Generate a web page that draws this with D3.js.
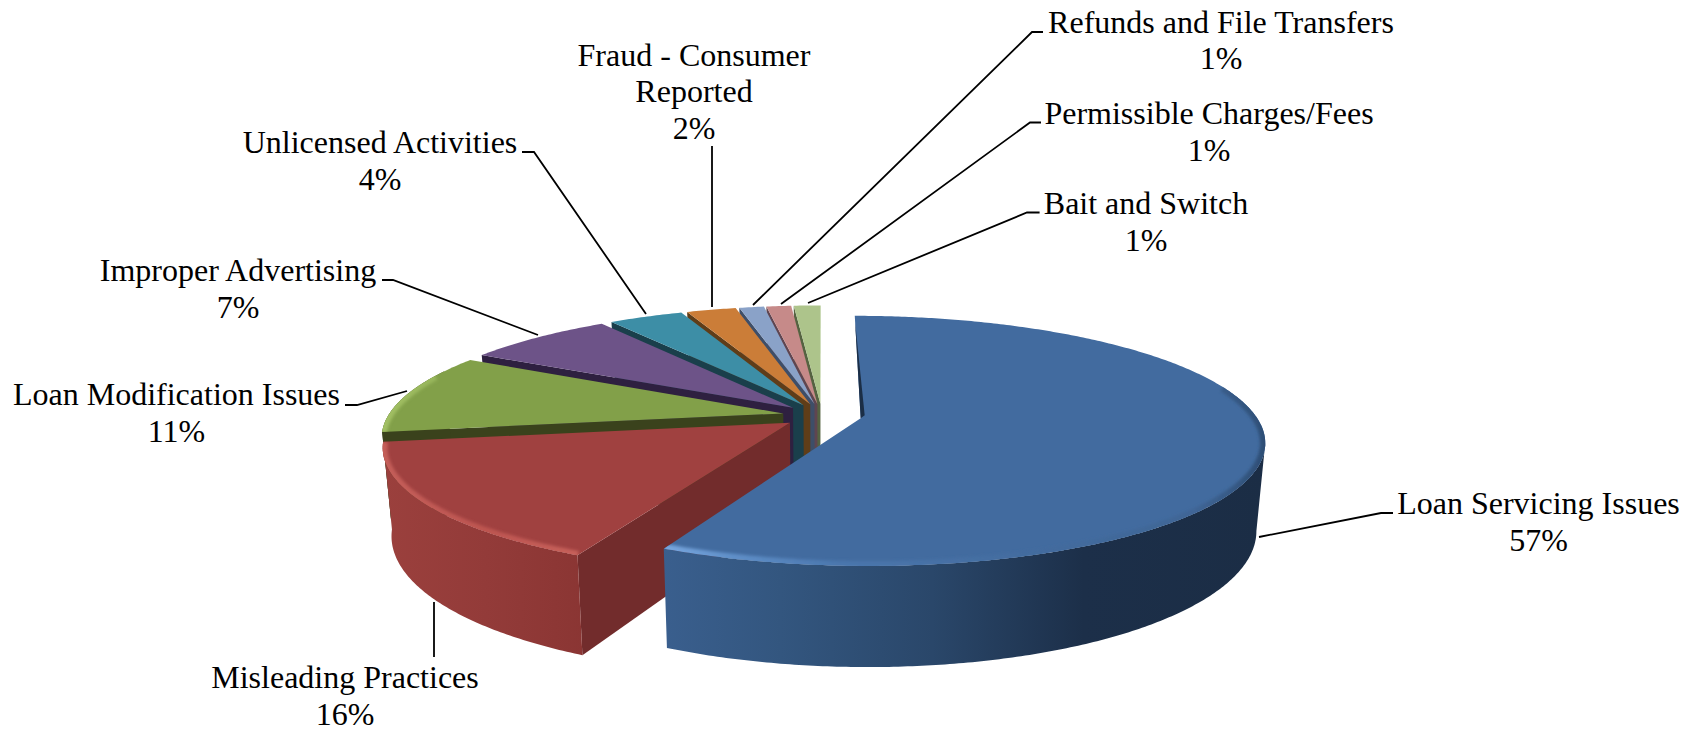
<!DOCTYPE html>
<html>
<head>
<meta charset="utf-8">
<script src="https://cdn.jsdelivr.net/npm/d3@7/dist/d3.min.js"></script>
<style>html,body{margin:0;padding:0;background:#fff}svg{display:block}</style>
</head>
<body>
<script>
const categories = ["Loan Servicing Issues","Misleading Practices","Loan Modification Issues","Improper Advertising","Unlicensed Activities","Fraud - Consumer Reported","Refunds and File Transfers","Permissible Charges/Fees","Bait and Switch"];
const values = [57.1,15.5,10.5,7.2,3.6,2.4,1.2,1.2,1.3];
const topColors = ["#426b9f","#a04140","#82a049","#6d5388","#3d8ea6","#cb7d38","#8aa2c8","#c68a89","#adc48b"];
const endWallColors = ["#1b2e46","#722c2c","#3a421c","#2e2040","#1a3f4b","#5f3d18","#3e4e68","#5f4550","#556341"];
const labelLines = [["Loan Servicing Issues"],["Misleading Practices"],["Loan Modification Issues"],["Improper Advertising"],["Unlicensed Activities"],["Fraud - Consumer","Reported"],["Refunds and File Transfers"],["Permissible Charges/Fees"],["Bait and Switch"]];

// annotation layout: label centre, first baseline, leader polyline
const labelX = [1538.5,345,176.5,238,380,694,1221,1209,1146];
const labelY = [514,688,405,281,153,65.5,32.5,124,214];
const leaders = [
  [[1393,513],[1381,513],[1259,537]],
  [[434,657],[434,602]],
  [[345,405],[357,405],[407,391]],
  [[382,280],[393,280],[538,335]],
  [[522,152],[534,152],[646,314]],
  [[712,146],[712,307]],
  [[1043,32],[1032,32],[753,305]],
  [[1041,122.5],[1030,122.5],[781,304]],
  [[1039.6,212.5],[1027,212.5],[808,303]]
];

const W = 1700, H = 732;
const cx = 822, cy = 415.6, R = 395, ellH = 120, persp = 0.18, depth = 85, shrink = 0.98, explode = 0.1;

const svg = d3.select("body").append("svg").attr("width",W).attr("height",H).attr("viewBox",`0 0 ${W} ${H}`);
svg.append("rect").attr("width",W).attr("height",H).attr("fill","#fff");
const defs = svg.append("defs");
defs.append("filter").attr("id","soft").attr("x","-10%").attr("y","-10%").attr("width","120%").attr("height","120%")
  .append("feGaussianBlur").attr("stdDeviation",1.8);

function addGrad(id,x1,x2,stops){
  const g = defs.append("linearGradient").attr("id",id).attr("gradientUnits","userSpaceOnUse")
    .attr("x1",x1).attr("x2",x2).attr("y1",0).attr("y2",0);
  stops.forEach(s=>g.append("stop").attr("offset",s[0]).attr("stop-color",s[1]));
}
addGrad("wall0",660,1265,[[0,"#3a5f8e"],[0.2,"#33567f"],[0.45,"#2a476a"],[0.7,"#1c2f49"],[1,"#1b2d45"]]);
addGrad("wall1",382,590,[[0,"#9b403d"],[0.5,"#933b39"],[1,"#8a3533"]]);
addGrad("rim0",660,1268,[[0,"#7aa8e0"],[0.12,"#5f8fc8"],[0.3,"#4a76ad"],[0.6,"#436c9f"],[0.88,"#3f6595"],[1,"#2d4d74"]]);
addGrad("rim1",382,590,[[0,"#c45e59"],[0.5,"#bd5550"],[1,"#c8625c"]]);
addGrad("rim2",380,480,[[0,"#a2c064"],[1,"#8fae55"]]);

const pie = d3.pie().sort(null).value(d=>d).startAngle(0).endAngle(2*Math.PI);
const arcs = pie(values);

function ground(a,r,offX,offZ){ return [r*Math.sin(a)+offX, r*Math.cos(a)+offZ]; }
function topPt(X,Z){ const s=1/(1+persp*Z); return [cx+R*X*s, cy-ellH*Z*s]; }
function botPt(X,Z){ const s=1/(1+persp*Z); return [cx+R*X*s*shrink, cy-ellH*Z*s*shrink+depth*s]; }
const line = d3.line();
const sample = (a0,a1,step=0.01)=>{ const n=Math.max(2,Math.ceil(Math.abs(a1-a0)/step)); return d3.range(n+1).map(i=>a0+(a1-a0)*i/n); };

const order = d3.range(values.length-1,-1,-1); // back to front, blue last
const gPie = svg.append("g");

order.forEach(i=>{
  const d = arcs[i], mid=(d.startAngle+d.endAngle)/2;
  const ox = explode*Math.sin(mid), oz = explode*Math.cos(mid);
  const g = gPie.append("g");
  const wallFill = i<2 ? `url(#wall${i})` : endWallColors[i];

  // radial end wall at the start edge
  if(i>0){
    const [ax,az]=[ox,oz], [bx,bz]=ground(d.startAngle,1,ox,oz);
    g.append("path").attr("d",line([topPt(ax,az),topPt(bx,bz),botPt(bx,bz),botPt(ax,az)])+"Z").attr("fill",endWallColors[i]);
  }
  // outer wall: from the right-hand silhouette round the front
  let lo=Math.max(d.startAngle,0.8), hi=Math.min(d.endAngle,5.1);
  if(i==0){
    lo=d3.greatest(sample(lo,hi),a=>{const p=ground(a,1,ox,oz);return topPt(p[0],p[1])[0];});
  }
  if(hi>lo && d.startAngle<5.1){
    const as=sample(lo,hi).map(a=>ground(a,1,ox,oz));
    g.append("path").attr("d",line(as.map(p=>topPt(p[0],p[1])).concat(as.slice().reverse().map(p=>botPt(p[0],p[1]))))+"Z").attr("fill",wallFill);
  }
  // top face
  const rimPts = sample(d.startAngle,d.endAngle).map(a=>{const p=ground(a,1,ox,oz);return topPt(p[0],p[1]);});
  const topD = line([topPt(ox,oz)].concat(rimPts))+"Z";
  g.append("path").attr("d",topD).attr("fill",topColors[i]);

  // bevel along the front rim
  if(i<3){
    defs.append("clipPath").attr("id","clip"+i).append("path").attr("d",topD);
    const a0=Math.max(d.startAngle,1.3), a1=Math.min(d.endAngle,i==2?5.05:5.0);
    const pts=sample(a0,a1).map(a=>{const p=ground(a,0.998,ox,oz);return topPt(p[0],p[1]);});
    g.append("g").attr("clip-path",`url(#clip${i})`).append("path").attr("d",line(pts)).attr("fill","none")
      .attr("stroke",`url(#rim${i})`).attr("stroke-width",i==0?9:8).attr("filter","url(#soft)");
  }
  // thin dark sliver along blue's start edge
  if(i==0){
    const p0=topPt(ox,oz), [tx,tz]=ground(d.startAngle,0.93,ox,oz), p1=topPt(tx,tz);
    g.append("path").attr("d",line([p1,p0,[p0[0]+4,p0[1]-3]])+"Z").attr("fill",endWallColors[0]);
  }
});

// leader lines
svg.append("g").selectAll("path").data(leaders).join("path")
  .attr("d",d=>line(d)).attr("fill","none").attr("stroke","#000").attr("stroke-width",1.8);

// labels
const gL = svg.append("g").attr("font-family","'Liberation Serif','Times New Roman',serif").attr("font-size",32).attr("fill","#000").attr("text-anchor","middle");
categories.forEach((c,i)=>{
  const lines = labelLines[i].concat([Math.round(values[i])+"%"]);
  lines.forEach((t,j)=>{
    gL.append("text").attr("x",labelX[i]).attr("y",labelY[i]+j*36.8).text(t);
  });
});
</script>
</body>
</html>
